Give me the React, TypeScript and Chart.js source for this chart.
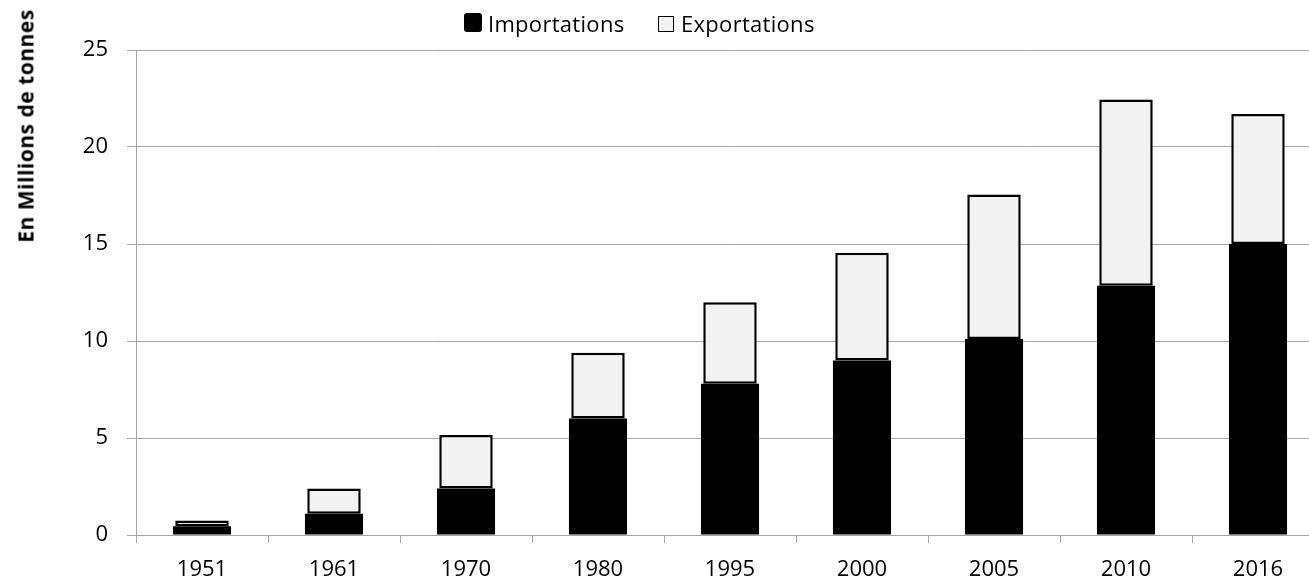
import { useEffect, useRef } from "react"
import { Chart, type ChartConfiguration, registerables } from "chart.js"

Chart.register(...registerables)

const years = ["1951", "1961", "1970", "1980", "1995", "2000", "2005", "2010", "2016"]
const importations = [0.45, 1.1, 2.4, 6.0, 7.8, 9.0, 10.1, 12.85, 15.0]
const exportations = [0.3, 1.3, 2.75, 3.4, 4.2, 5.55, 7.45, 9.6, 6.7]
const yMin = 0
const yMax = 25
const yStep = 5

const FONT = "'Open Sans', sans-serif"
const GRID = "#a6a6a6"

export default function App() {
  const canvasRef = useRef<HTMLCanvasElement>(null)
  const chartRef = useRef<Chart | null>(null)

  useEffect(() => {
    if (!canvasRef.current) return
    const ctx = canvasRef.current.getContext("2d")
    if (!ctx) return

    if (chartRef.current) chartRef.current.destroy()

    const config: ChartConfiguration<"bar"> = {
      type: "bar",
      data: {
        labels: years,
        datasets: [
          {
            label: "Importations",
            data: importations,
            backgroundColor: "#000000",
            borderWidth: 0,
            barPercentage: 0.44,
            categoryPercentage: 1,
          },
          {
            label: "Exportations",
            data: exportations,
            backgroundColor: "#f2f2f2",
            borderColor: "#000000",
            borderWidth: 2.5,
            borderSkipped: false,
            barPercentage: 0.405,
            categoryPercentage: 1,
          },
        ],
      },
      options: {
        responsive: false,
        animation: false,
        layout: { padding: { top: 50, right: 6, left: 0, bottom: 0 } },
        plugins: {
          legend: { display: false },
          tooltip: { enabled: false },
        },
        scales: {
          x: {
            stacked: true,
            grid: { drawOnChartArea: false, color: GRID, tickLength: 8, offset: true },
            border: { color: GRID },
            ticks: { font: { family: FONT, size: 22 }, color: "#000", padding: 14 },
            afterFit: (scale) => {
              scale.height = 45
            },
          },
          y: {
            stacked: true,
            min: yMin,
            max: yMax,
            grid: { color: GRID, tickLength: 9 },
            border: { color: GRID },
            ticks: { stepSize: yStep, font: { family: FONT, size: 22 }, color: "#000", padding: 19 },
            afterFit: (scale) => {
              scale.width = 136
            },
          },
        },
      },
    }

    chartRef.current = new Chart(ctx, config)

    return () => {
      if (chartRef.current) {
        chartRef.current.destroy()
        chartRef.current = null
      }
    }
  }, [])

  return (
    <div
      style={{
        position: "fixed",
        left: 0,
        top: 0,
        width: 1309,
        height: 580,
        overflow: "hidden",
        background: "#fff",
        fontFamily: FONT,
      }}
    >
      <canvas ref={canvasRef} width={1330} height={580} style={{ width: 1330, height: 580 }} />

      {/* legend */}
      <div
        style={{
          position: "absolute",
          left: 464,
          top: 13,
          width: 18,
          height: 19,
          background: "#000",
          borderRadius: 3,
        }}
      />
      <span style={{ position: "absolute", left: 488, top: 12, fontSize: 22, lineHeight: "22px", color: "#000", whiteSpace: "nowrap", letterSpacing: 0.3 }}>
        Importations
      </span>
      <div
        style={{
          position: "absolute",
          left: 658,
          top: 16,
          width: 14,
          height: 14,
          background: "#f2f2f2",
          border: "1.5px solid #000",
        }}
      />
      <span style={{ position: "absolute", left: 681, top: 12, fontSize: 22, lineHeight: "22px", color: "#000", whiteSpace: "nowrap", letterSpacing: 0.3 }}>
        Exportations
      </span>

      {/* y axis title */}
      <div
        style={{
          position: "absolute",
          left: 25.5,
          top: 125.5,
          transform: "translate(-50%, -50%) rotate(-90deg)",
          fontSize: 21,
          lineHeight: "21px",
          fontWeight: "bold",
          letterSpacing: 0.5,
          color: "#000",
          whiteSpace: "nowrap",
        }}
      >
        En Millions de tonnes
      </div>
    </div>
  )
}
